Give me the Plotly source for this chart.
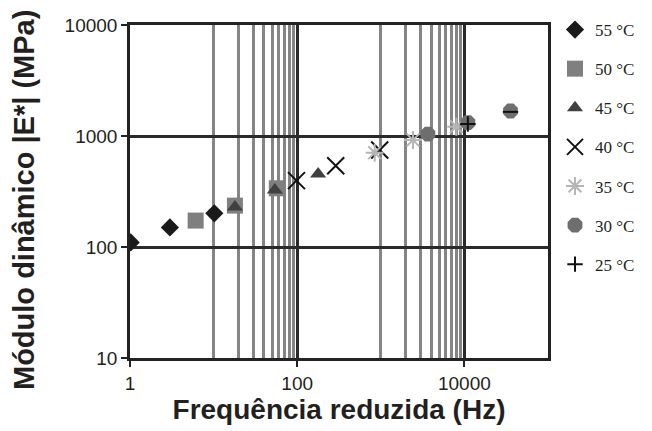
import plotly.graph_objects as go

# Data
x55 = [1.02, 3.0, 10.2]
y55 = [110, 150, 201]
x50 = [6.1, 18, 57]
y50 = [173, 236, 338]
x45 = [18, 54, 178]
y45 = [229, 326, 455]
x40 = [98, 289, 970]
y40 = [396, 540, 748]
x35 = [845, 2425, 8000]
y35 = [707, 920, 1214]
x30 = [3660, 11000, 35600]
y30 = [1042, 1320, 1680]
x25 = [11000, 35600]
y25 = [1282, 1650]

labels = ["55 °C", "50 °C", "45 °C", "40 °C", "35 °C", "30 °C", "25 °C"]
x_ticks = [1, 100, 10000]
y_ticks = [10, 100, 1000, 10000]
x_minor = [10, 20, 30, 40, 50, 60, 70, 80, 90,
           1000, 2000, 3000, 4000, 5000, 6000, 7000, 8000, 9000]
x_title = "Frequência reduzida (Hz)"
y_title = "Módulo dinâmico |E*| (MPa)"

series = [
    (x55, y55, dict(symbol="diamond", size=14, color="#1a1a1a")),
    (x50, y50, dict(symbol="square", size=16, color="#7f7f7f")),
    (x45, y45, dict(symbol="triangle-up", size=14, color="#404040")),
    (x40, y40, dict(symbol="x-thin", size=17, color="#111111",
                    line=dict(width=2, color="#111111"))),
    (x35, y35, dict(symbol="asterisk", size=15, color="#b5b5b5",
                    line=dict(width=2, color="#b5b5b5"))),
    (x30, y30, dict(symbol="octagon", size=16, color="#6e6e6e")),
    (x25, y25, dict(symbol=["cross-thin", "line-ew"], size=11, color="#111111",
                    line=dict(width=2, color="#111111"))),
]

fig = go.Figure()
for i, ((xs, ys, mk), name) in enumerate(zip(series, labels)):
    fig.add_trace(go.Scatter(x=xs, y=ys, mode="markers", name=name,
                             marker=mk, legendgroup=str(i)))

axis_font = dict(family="Liberation Sans, Arial, sans-serif", size=19, color="#231f20")
title_font = dict(family="Liberation Sans, Arial, sans-serif", size=28, color="#231f20")

fig.add_annotation(text="<b>" + y_title + "</b>", xref="paper", yref="paper",
                   x=(24 - 130) / 418, y=(358 - 200) / 333, textangle=-90,
                   showarrow=False, xanchor="center", yanchor="middle",
                   font=dict(family="Liberation Sans, Arial, sans-serif", size=29,
                             color="#231f20"))

fig.update_layout(
    width=652, height=431,
    margin=dict(l=130, r=104, t=25, b=73),
    paper_bgcolor="white", plot_bgcolor="white",
    showlegend=True,
    legend=dict(x=(555 - 130) / 418, y=1 + (25 - 12) / 333,
                xanchor="left", yanchor="top",
                font=dict(family="Liberation Serif, Times New Roman, serif",
                          size=17, color="#231f20"),
                tracegroupgap=14, itemwidth=30, bgcolor="rgba(0,0,0,0)",
                maxheight=420),
    xaxis=dict(type="log", range=[0, 5], tickvals=x_ticks,
               ticktext=[str(v) for v in x_ticks],
               showgrid=True, gridcolor="#2a2a2a", gridwidth=2.5,
               showline=True, linecolor="#222222", linewidth=2.5, mirror=True,
               ticks="outside", ticklen=6, tickwidth=2, tickcolor="#222222",
               tickfont=axis_font, zeroline=False,
               minor=dict(tickvals=x_minor, showgrid=True, gridcolor="#858585",
                          gridwidth=2.5, ticks=""),
               title=dict(text="<b>" + x_title + "</b>", font=title_font,
                          standoff=6)),
    yaxis=dict(type="log", range=[1, 4], tickvals=y_ticks,
               ticktext=[str(v) for v in y_ticks],
               showgrid=True, gridcolor="#2a2a2a", gridwidth=2.5,
               showline=True, linecolor="#222222", linewidth=2.5, mirror=True,
               ticks="outside", ticklen=6, tickwidth=2, tickcolor="#222222",
               tickfont=axis_font, zeroline=False),
)

fig.write_html("out.html")
